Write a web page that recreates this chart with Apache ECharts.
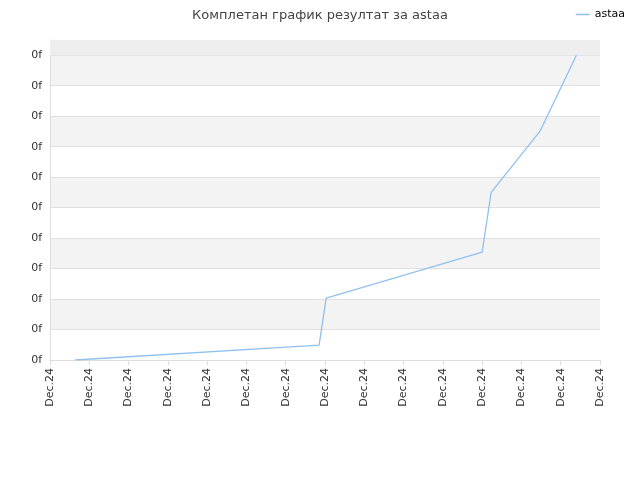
<!DOCTYPE html>
<html><head><meta charset="utf-8">
<script src="https://cdn.jsdelivr.net/npm/echarts@6/dist/echarts.min.js"></script>
<style>html,body{margin:0;padding:0}#c{width:640px;height:480px}</style>
</head><body><div id="c"></div>
<script>
const seriesName = 'astaa';
const xValues = [0.64, 6.85, 7.03, 11.0, 11.23, 12.47, 13.4];
const yValues = [0.0, 0.49, 2.03, 3.54, 5.5, 7.5, 10.0];
const xTickLabel = 'Dec.24';
const yTickLabel = '0f';
const chart = echarts.init(document.getElementById('c'));
chart.setOption({
  animation:false,
  title:{text:'Комплетан график резултат за astaa',left:'center',top:4,textStyle:{fontSize:13,fontWeight:'normal',color:'#444',fontFamily:'DejaVu Sans'}},
  legend:{right:10,top:4,itemWidth:14,icon:'path://M0,5L14,5L14,6.5L0,6.5Z',textStyle:{fontSize:11,color:'#000',fontFamily:'DejaVu Sans'},data:[seriesName]},
  grid:{left:50,right:40,top:40,bottom:120},
  xAxis:{type:'value',min:0,max:14,interval:1,
    axisLine:{show:true,lineStyle:{color:'#ddd'}},axisTick:{show:true,lineStyle:{color:'#ddd'}},
    splitLine:{show:false},
    axisLabel:{rotate:90,formatter:()=>xTickLabel,color:'#333',fontSize:11,fontFamily:'DejaVu Sans'}},
  yAxis:{type:'value',min:0,max:10.5,interval:1,
    axisLine:{show:true,lineStyle:{color:'#ddd'}},axisTick:{show:false},
    splitLine:{show:true,lineStyle:{color:'#e0e0e0'}},
    splitArea:{show:true,areaStyle:{color:['#ffffff','#f3f3f3']}},
    axisLabel:{formatter:(v)=>v<=10?yTickLabel:'',color:'#333',fontSize:11,fontFamily:'DejaVu Sans'}},
  series:[{name:seriesName,type:'line',data:xValues.map((x,i)=>[x,yValues[i]]),
    symbol:'none',lineStyle:{color:'#90c0f0',width:1.3},itemStyle:{color:'#90c0f0'},
    markArea:{silent:true,itemStyle:{color:'#eeeeee'},data:[[{yAxis:10},{yAxis:10.5}]]}}]
});
</script></body></html>
